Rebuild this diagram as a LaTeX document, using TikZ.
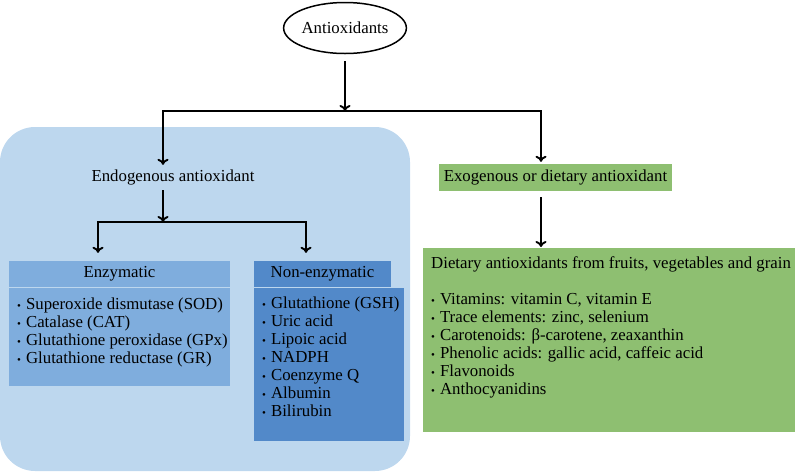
\documentclass[tikz,border=0pt]{standalone}
\usepackage{fontspec}
\setmainfont{Liberation Serif}
\usetikzlibrary{positioning}
\usetikzlibrary{shapes}
\usetikzlibrary{arrows.meta}
\definecolor{bgblue}{HTML}{BDD7EE}
\definecolor{enzblue}{HTML}{7FADDD}
\definecolor{nonblue}{HTML}{5289C9}
\definecolor{dietgreen}{HTML}{8EBF71}
\newcommand{\itm}{{\fontsize{11}{11}\selectfont\textbullet}\hspace{5pt}}
\tikzset{
  arr/.style={black, line width=1.9pt, -{To[length=6pt,width=11pt]}},
  lst/.style={anchor=base west, align=left, inner sep=0pt},
  hdr/.style={inner sep=0pt, minimum height=26pt},
  panel/.style={inner sep=0pt, anchor=north west},
}
\begin{document}
\begin{tikzpicture}[x=1pt, y=-1pt, font=\fontsize{16.8}{18}\selectfont]
\useasboundingbox (0,0) rectangle (796,472);
%background
\fill[bgblue, rounded corners=35pt] (0,127) rectangle (410,471);
%top nodes
\node[ellipse, draw, line width=1.5pt, minimum width=117pt, minimum height=51pt, inner sep=0pt](anti) at (345,28){Antioxidants};
\node(endo) at (173,177){Endogenous antioxidant};
\node[fill=dietgreen, inner sep=0pt, minimum width=233pt, minimum height=27pt](exo) at (555.5,177.5){Exogenous or dietary antioxidant};
%endogenous boxes
\node[hdr, fill=enzblue, minimum width=221pt](enz) at (119.5,274){Enzymatic};
\node[panel, fill=enzblue, minimum width=221pt, minimum height=98pt](enzbody) at (9,288){};
\node[hdr, fill=nonblue, minimum width=137pt](non) at (322.5,274){Non-enzymatic};
\node[panel, fill=nonblue, minimum width=150pt, minimum height=153pt](nonbody) at (254,288){};
%exogenous box
\node[panel, fill=dietgreen, minimum width=372pt, minimum height=184pt](diet) at (423,248){};
%lists (base = last line)
\node[lst](enzlist) at (17,363){\itm Superoxide dismutase (SOD)\\ \itm Catalase (CAT)\\ \itm Glutathione peroxidase (GPx)\\ \itm Glutathione reductase (GR)};
\node[lst](nonlist) at (262,416){\itm Glutathione (GSH)\\ \itm Uric acid\\ \itm Lipoic acid\\ \itm NADPH\\ \itm Coenzyme Q\\ \itm Albumin\\ \itm Bilirubin};
\node[lst](dietlist) at (431,394){Dietary antioxidants from fruits, vegetables and grain\\[18pt] \itm Vitamins: vitamin C, vitamin E\\ \itm Trace elements: zinc, selenium\\ \itm Carotenoids: β-carotene, zeaxanthin\\ \itm Phenolic acids: gallic acid, caffeic acid\\ \itm Flavonoids\\ \itm Anthocyanidins};
%split points
\coordinate(split) at (345,111);
\coordinate(esplit) at (163,222);
%arrows
\draw[arr, shorten <=7pt] (anti) -- (split);
\draw[arr, shorten >=1pt] (split) -| ([xshift=-10pt]endo.north);
\draw[arr, shorten >=2pt] (split) -| ([xshift=-14.5pt]exo.north);
\draw[arr, shorten <=2pt] ([xshift=-10pt]endo.south) -- (esplit);
\draw[arr, shorten >=8pt] (esplit) -| ([xshift=-21.5pt]enz.north);
\draw[arr, shorten >=8pt] (esplit) -| ([xshift=-16.5pt]non.north);
\draw[arr, shorten <=6pt, shorten >=1pt] ([xshift=-14.5pt]exo.south) -- ([xshift=-14.5pt]exo.south |- diet.north);
\end{tikzpicture}
\end{document}
